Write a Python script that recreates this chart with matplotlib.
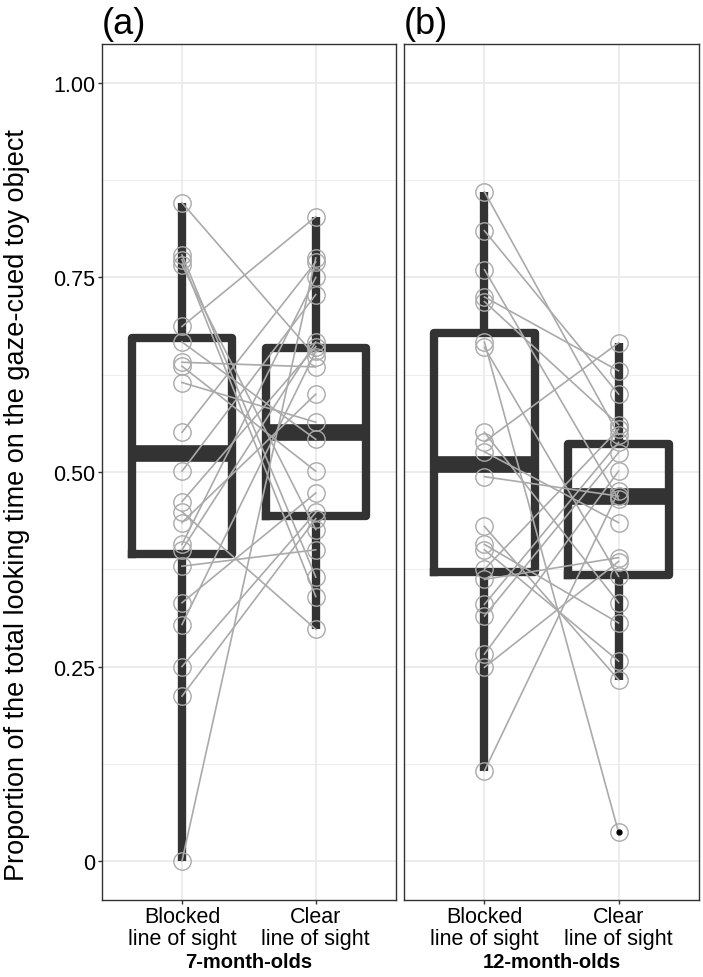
import numpy as np
import matplotlib
matplotlib.use('Agg')
import matplotlib.pyplot as plt

plt.rcParams['font.family'] = ['Liberation Sans', 'DejaVu Sans']

# paired proportions (blocked, clear) per infant
blocked_7 = [0.846, 0.779, 0.773, 0.766, 0.687, 0.667, 0.641, 0.636, 0.615, 0.551, 0.501,
             0.462, 0.449, 0.435, 0.407, 0.400, 0.379, 0.332, 0.304, 0.250, 0.212, 0.000]
clear_7 = [0.648, 0.365, 0.340, 0.426, 0.828, 0.542, 0.635, 0.501, 0.564, 0.770, 0.728,
           0.661, 0.298, 0.600, 0.750, 0.667, 0.400, 0.473, 0.655, 0.448, 0.440, 0.775]

blocked_12 = [0.860, 0.810, 0.760, 0.725, 0.719, 0.667, 0.660, 0.551, 0.539, 0.526, 0.494,
              0.430, 0.407, 0.400, 0.375, 0.362, 0.330, 0.315, 0.266, 0.249, 0.116]
clear_12 = [0.548, 0.600, 0.465, 0.630, 0.561, 0.037, 0.366, 0.332, 0.666, 0.435, 0.469,
            0.233, 0.306, 0.257, 0.555, 0.390, 0.538, 0.525, 0.501, 0.385, 0.475]

# box summaries as drawn (blocked, clear)
box_lo_7 = [0.000, 0.298]
box_q1_7 = [0.395, 0.443]
box_med_7 = [0.524, 0.552]
box_q3_7 = [0.672, 0.659]
box_hi_7 = [0.846, 0.828]
fliers_7 = [[], []]

box_lo_12 = [0.116, 0.233]
box_q1_12 = [0.372, 0.368]
box_med_12 = [0.510, 0.469]
box_q3_12 = [0.679, 0.536]
box_hi_12 = [0.860, 0.666]
fliers_12 = [[], [0.037]]

conditions = ['Blocked\nline of sight', 'Clear\nline of sight']
groups = ['7-month-olds', '12-month-olds']
panel_tags = ['(a)', '(b)']
yticks = [0, 0.25, 0.50, 0.75, 1.00]
ytick_labels = ['0', '0.25', '0.50', '0.75', '1.00']

dark = '#333333'
grey = '#aaaaaa'

fig = plt.figure(figsize=(7.03, 9.78), dpi=100)
ax1 = fig.add_axes([0.1447, 0.0787, 0.4186, 0.8753])
ax2 = fig.add_axes([0.5747, 0.0787, 0.4196, 0.8753])

panels = [
    (ax1, blocked_7, clear_7, box_lo_7, box_q1_7, box_med_7, box_q3_7, box_hi_7, fliers_7),
    (ax2, blocked_12, clear_12, box_lo_12, box_q1_12, box_med_12, box_q3_12, box_hi_12, fliers_12),
]

for i, (ax, b, c, lo, q1, med, q3, hi, fl) in enumerate(panels):
    stats = []
    for k in range(2):
        stats.append({'whislo': lo[k], 'q1': q1[k], 'med': med[k], 'q3': q3[k],
                      'whishi': hi[k], 'fliers': fl[k]})
    ax.bxp(stats, positions=[1, 2], widths=0.75, showcaps=False,
           boxprops=dict(color=dark, linewidth=6, solid_joinstyle='round'),
           whiskerprops=dict(color=dark, linewidth=6, solid_capstyle='butt'),
           medianprops=dict(color=dark, linewidth=12, solid_capstyle='butt'),
           flierprops=dict(marker='o', markerfacecolor='black', markeredgecolor='black',
                           markersize=3.5, zorder=5),
           zorder=2)

    for yb, yc in zip(b, c):
        ax.plot([1, 2], [yb, yc], color=grey, linewidth=1.2, zorder=3)
    ax.plot(np.ones(len(b)), b, 'o', mfc='none', mec=grey, ms=12.5, mew=1.0, zorder=4)
    ax.plot(np.full(len(c), 2), c, 'o', mfc='none', mec=grey, ms=12.5, mew=1.0, zorder=4)

    ax.set_xlim(0.4, 2.6)
    ax.set_ylim(-0.05, 1.05)
    ax.set_xticks([1, 2])
    ax.set_xticklabels(conditions, fontsize=15.5, linespacing=1.05)
    ax.set_yticks(yticks)
    ax.set_yticks([0.125, 0.375, 0.625, 0.875], minor=True)
    ax.grid(True, which='major', color='#ebebeb', linewidth=1.3, zorder=0)
    ax.grid(True, which='minor', axis='y', color='#ebebeb', linewidth=0.6, zorder=0)
    ax.set_axisbelow(True)
    ax.tick_params(axis='both', which='major', length=3, width=1, color=dark, pad=1.5)
    ax.tick_params(axis='y', which='minor', length=0)
    for s in ax.spines.values():
        s.set_color(dark)
        s.set_linewidth(1.0)
    ax.set_xlabel(groups[i], fontsize=14.5, fontweight='bold', labelpad=2)
    ax.set_title(panel_tags[i], loc='left', fontsize=26, pad=8)

ax1.set_yticklabels(ytick_labels, fontsize=15.5)
ax2.tick_params(axis='y', which='both', left=False, labelleft=False)

fig.text(17 / 703, 1 - 505 / 978,
         'Proportion of the total looking time on the gaze-cued toy object',
         rotation=90, fontsize=19.5, ha='center', va='center')

fig.savefig('out.png', dpi=100)
